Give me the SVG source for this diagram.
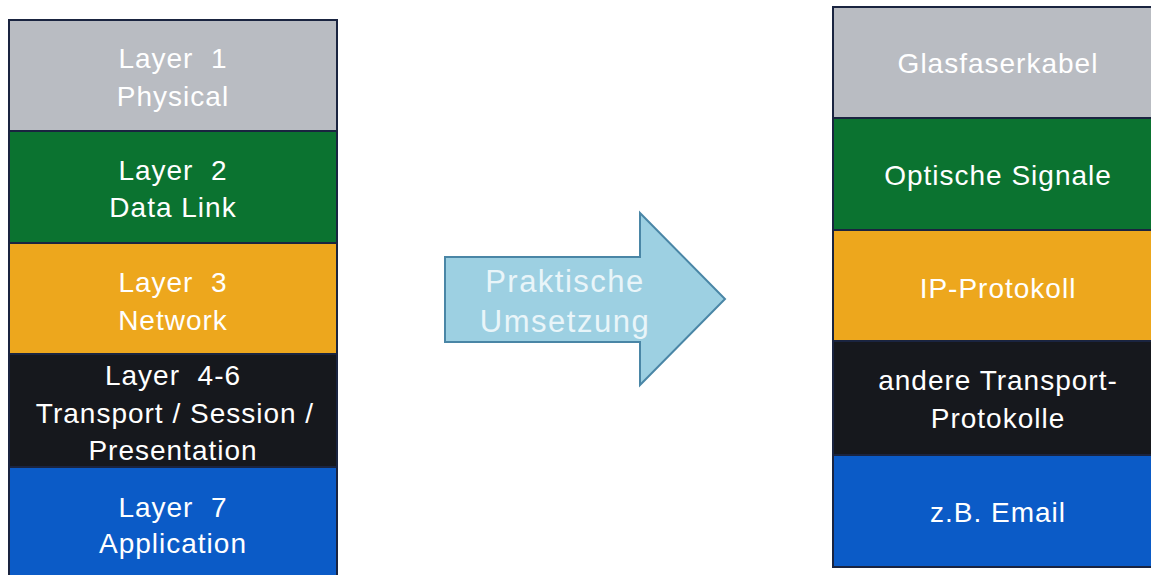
<svg xmlns="http://www.w3.org/2000/svg" width="1151" height="575" viewBox="0 0 1151 575">
<style>
.t{font-family:"Liberation Sans",Arial,sans-serif;font-size:28px;fill:#ffffff;text-anchor:middle;letter-spacing:1px;white-space:pre}
.b{stroke:#1a2440;stroke-width:2}
.gray{fill:#b9bcc2}.green{fill:#0b7330}.orange{fill:#eda71d}.black{fill:#16181d}.blue{fill:#0b5bc7}
.at{font-family:"Liberation Sans",Arial,sans-serif;font-size:31px;fill:#e9f5f9;text-anchor:middle;letter-spacing:1.5px}
</style>
<rect width="1151" height="575" fill="#ffffff"/>
<g id="left-stack">
<g id="l1"><rect class="b gray" x="9" y="20" width="328" height="111"/><text class="t" x="173" y="68" xml:space="preserve">Layer  1</text><text class="t" x="173" y="106">Physical</text></g>
<g id="l2"><rect class="b green" x="9" y="131" width="328" height="112"/><text class="t" x="173" y="180" xml:space="preserve">Layer  2</text><text class="t" x="173" y="217">Data Link</text></g>
<g id="l3"><rect class="b orange" x="9" y="243" width="328" height="111"/><text class="t" x="173" y="292" xml:space="preserve">Layer  3</text><text class="t" x="173" y="330">Network</text></g>
<g id="l46"><rect class="b black" x="9" y="354" width="328" height="113"/><text class="t" x="173" y="385" xml:space="preserve">Layer  4-6</text><text class="t" x="175" y="423">Transport / Session /</text><text class="t" x="173" y="460">Presentation</text></g>
<g id="l7"><rect class="b blue" x="9" y="467" width="328" height="112"/><text class="t" x="173" y="517" xml:space="preserve">Layer  7</text><text class="t" x="173" y="553">Application</text></g>
</g>
<g id="connectors">
<g id="arrow"><path d="M445 257 H640 V213 L725 299 L640 385 V342 H445 Z" fill="#9dd0e2" stroke="#4a86a6" stroke-width="2"/>
<text class="at" x="565" y="292">Praktische</text><text class="at" x="565" y="332">Umsetzung</text></g>
</g>
<g id="right-stack">
<g id="r1"><rect class="b gray" x="833" y="7" width="330" height="111"/><text class="t" x="998" y="73">Glasfaserkabel</text></g>
<g id="r2"><rect class="b green" x="833" y="118" width="330" height="112"/><text class="t" x="998" y="185">Optische Signale</text></g>
<g id="r3"><rect class="b orange" x="833" y="230" width="330" height="111"/><text class="t" x="998" y="298">IP-Protokoll</text></g>
<g id="r4"><rect class="b black" x="833" y="341" width="330" height="114"/><text class="t" x="998" y="390">andere Transport-</text><text class="t" x="998" y="428">Protokolle</text></g>
<g id="r5"><rect class="b blue" x="833" y="455" width="330" height="112"/><text class="t" x="998" y="522">z.B. Email</text></g>
</g>
</svg>
